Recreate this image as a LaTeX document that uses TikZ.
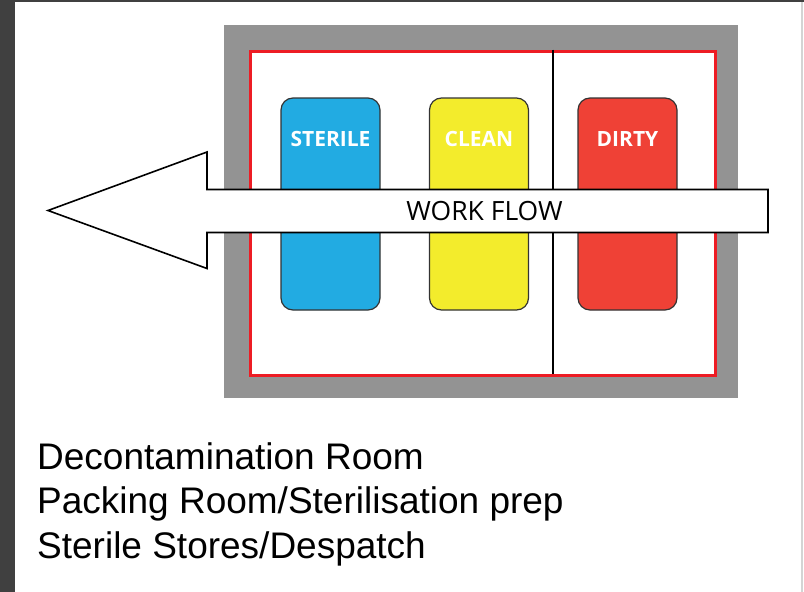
\documentclass[tikz,border=0pt]{standalone}
\usepackage{fontspec}
\setmainfont{Liberation Sans}
\newfontfamily\tagfont{Open Sans}
\definecolor{pageedge}{HTML}{404040}
\definecolor{pageline}{HTML}{D4D4D4}
\definecolor{wallgray}{HTML}{939393}
\definecolor{wallred}{HTML}{ED1C24}
\definecolor{sterileblue}{HTML}{22ABE2}
\definecolor{cleanyellow}{HTML}{F3EC2C}
\definecolor{dirtyred}{HTML}{EF4136}
\definecolor{binedge}{HTML}{333333}
\begin{document}
\begin{tikzpicture}[x=1pt,y=-1pt,
  bin/.style={draw=binedge, line width=1.2pt, rounded corners=12pt,
              minimum width=99pt, minimum height=212pt, inner sep=0pt},
  binlabel/.style={text=white, font=\tagfont\bfseries\fontsize{21}{24}\selectfont, inner sep=0pt},
  flowline/.style={draw=black, fill=white, line width=1.6pt, line join=miter},
  caption/.style={anchor=base west, inner sep=0pt, font=\fontsize{37}{40}\selectfont}]
\useasboundingbox (0,0) rectangle (804,592);
\fill[white] (0,0) rectangle (804,592);
% page frame
\fill[pageedge] (0,0) rectangle (15,592);
\fill[pageedge] (0,0) rectangle (804,2);
\fill[pageline] (801,2) rectangle (803,592);

% walls and room outline
\node (wall) [fill=wallgray, minimum width=514pt, minimum height=373pt,
              inner sep=0pt, anchor=north west] at (224,25) {};
\node (room) [draw=wallred, fill=white, line width=3pt, minimum width=465pt,
              minimum height=324pt, inner sep=0pt, anchor=north west] at (248.5,49.5) {};
\coordinate (divtop) at (553,49.5);
\coordinate (divbot) at (553,373.5);
\draw[line width=2pt] (divtop) -- (divbot);

% zone bins
\node (sterile) [bin, fill=sterileblue] at (330.5,204) {};
\node (clean)   [bin, fill=cleanyellow] at (479,204) {};
\node (dirty)   [bin, fill=dirtyred]    at (627.5,204) {};
\node (sterileL) [binlabel] at (330.5,139) {STERILE};
\node (cleanL)   [binlabel] at (479,139) {CLEAN};
\node (dirtyL)   [binlabel] at (627.5,139) {DIRTY};

% work flow arrow
\draw[flowline] (768,189.5) -- (207,189.5) -- (207,152) -- (48,210.5)
  -- (207,268.5) -- (207,232.5) -- (768,232.5) -- cycle;
\node (flow) [inner sep=0pt, font=\tagfont\fontsize{26.5}{30}\selectfont] at (484.5,211) {WORK FLOW};

% room list
\node (l1) [caption] at (37,469) {Decontamination Room};
\node (l2) [caption] at (37,513.5) {Packing Room/Sterilisation prep};
\node (l3) [caption] at (37,558) {Sterile Stores/Despatch};
\end{tikzpicture}
\end{document}
